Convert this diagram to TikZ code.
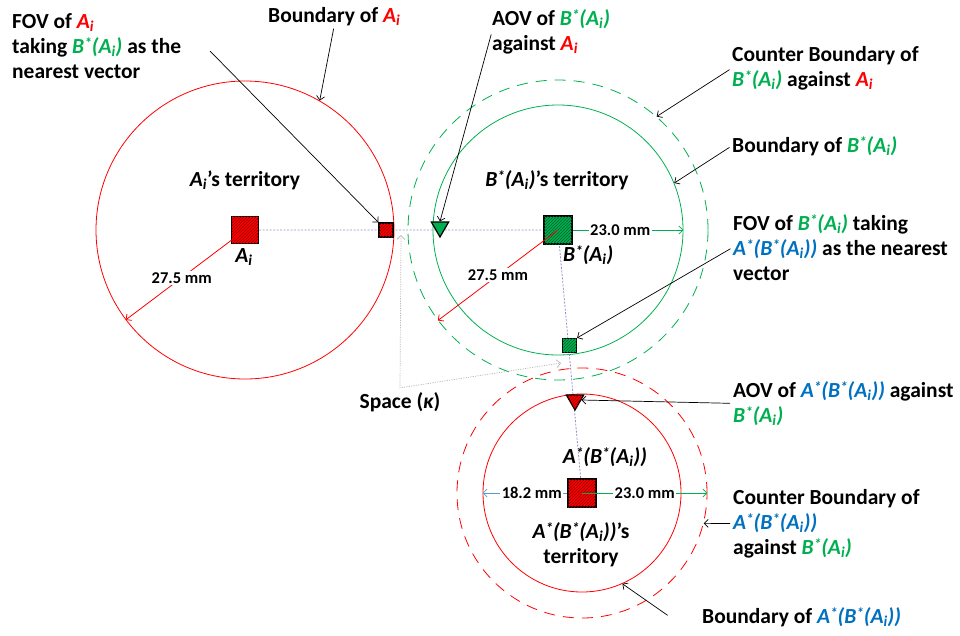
\documentclass[tikz,border=0pt]{standalone}
\usepackage{fontspec}
\setmainfont{Carlito}
\usetikzlibrary{positioning,arrows.meta,shapes.geometric,patterns}
\definecolor{TerrRed}{HTML}{FF0000}
\definecolor{TerrGreen}{HTML}{00B050}
\definecolor{TerrBlue}{HTML}{0070C0}
\definecolor{TerrSky}{HTML}{5B9BD5}
\definecolor{TerrLav}{HTML}{9A90C8}
\newcommand{\nstar}{\raisebox{0.2em}{\scalebox{0.7}{*}}}
\newcommand{\Ai}{\textit{A\textsubscript{i}}}
\newcommand{\BAi}{\textit{B\nstar(A\textsubscript{i})}}
\newcommand{\ABAi}{\textit{A\nstar(B\nstar(A\textsubscript{i}))}}

\begin{document}
\begin{tikzpicture}[x=1pt,y=-1pt,
    font=\fontsize{21.5}{25}\selectfont\bfseries,
    every node/.style={inner sep=0pt},
    bound/.style={circle,draw,line width=0.8pt,minimum size=#1},
    counter/.style={bound=#1,dash pattern=on 11pt off 8pt},
    agent/.style={draw,line width=1.2pt,minimum size=#1},
    redhatch/.style={fill=TerrRed,postaction={pattern=north east lines,pattern color=TerrRed!55!black}},
    greenhatch/.style={fill=TerrGreen,postaction={pattern=north east lines,pattern color=TerrGreen!55!black}},
    tri/.style={regular polygon,regular polygon sides=3,shape border rotate=180,draw,line width=1.2pt,minimum size=20pt},
    link/.style={TerrLav,line width=0.8pt,dash pattern=on 2pt off 1.5pt},
    meas/.style={-{Straight Barb[length=4pt,width=8pt]},line width=0.8pt},
    mmlbl/.style={fill=white,inner sep=1.5pt,font=\fontsize{16.5}{18}\selectfont\bfseries},
    lbl/.style={align=left,anchor=north west},
    ptr/.style={-{Straight Barb[length=4pt,width=8pt]},line width=0.7pt,shorten <=3pt},
    gap/.style={gray!55,line width=0.7pt,dash pattern=on 1.2pt off 1.2pt,
      {Straight Barb[length=4pt,width=8pt]}-{Straight Barb[length=4pt,width=8pt]}}]
    \useasboundingbox (0,0) rectangle (960,635);

    % Centres
    \coordinate (cA) at (245,230);
    \coordinate (cB) at (558,230);
    \coordinate (cAB) at (582,493);

    % Boundaries
    \node[bound=298pt,draw=TerrRed] (bndA) at (cA) {};
    \node[bound=250pt,draw=TerrGreen] (bndB) at (cB) {};
    \node[counter=300pt,draw=TerrGreen] (cbB) at (cB) {};
    \node[bound=198pt,draw=TerrRed] (bndAB) at (cAB) {};
    \node[counter=250pt,draw=TerrRed] (cbAB) at (cAB) {};

    % Nearest vector link
    \draw[link] (cA) -- (cB) -- (cAB);

    % Vectors
    \node[agent=27pt,redhatch] (sqA) at (cA) {};
    \node[agent=28pt,greenhatch] (sqB) at (cB) {};
    \node[agent=28pt,redhatch] (sqAB) at (cAB) {};
    \node[agent=14pt,redhatch] (fovA) at (386,230) {};
    \node[agent=14pt,greenhatch] (fovB) at (569.5,345.5) {};
    \node[tri,fill=TerrGreen] (trB) at (440,227) {};
    \node[tri,redhatch] (trA) at (575,400) {};

    % Distances
    \draw[meas,draw=TerrRed] (sqA.center) -- (bndA.217) node[mmlbl,pos=0.53] {27.5 mm};
    \draw[meas,draw=TerrRed] (sqB.center) -- (cbB.217) node[mmlbl,pos=0.5] {27.5 mm};
    \draw[meas,draw=TerrGreen] (sqB.east) -- (bndB.east) node[mmlbl,pos=0.43] {23.0 mm};
    \draw[meas,draw=TerrSky] (sqAB.west) -- (bndAB.west) node[mmlbl,pos=0.42] {18.2 mm};
    \draw[meas,draw=TerrGreen] (sqAB.center) -- (cbAB.east) node[mmlbl,pos=0.5] {23.0 mm};

    % Names and territories
    \node[anchor=base] (terA) at (245,186) {\Ai's territory};
    \node[anchor=base] (terB) at (557,186) {\BAi's territory};
    \node[anchor=base] (nmA) at (244,262) {\Ai};
    \node[anchor=base west] (nmB) at (563,261) {\BAi};
    \node[anchor=base] (nmAB) at (605,463) {\ABAi};
    \node[align=center,anchor=north] (terAB) at (581,522) {\ABAi's\\territory};

    % Labels
    \node[lbl] (fovAlbl) at (12,13) {FOV of \textcolor{TerrRed}{\Ai}\\taking \textcolor{TerrGreen}{\BAi} as the\\nearest vector};
    \node[anchor=base west] (bndAlbl) at (268,22) {Boundary of \textcolor{TerrRed}{\Ai}};
    \node[lbl] (aovBlbl) at (492,9) {AOV of \textcolor{TerrGreen}{\BAi}\\against \textcolor{TerrRed}{\Ai}};
    \node[lbl] (cbBlbl) at (732,46) {Counter Boundary of\\\textcolor{TerrGreen}{\BAi} against \textcolor{TerrRed}{\Ai}};
    \node[anchor=base west] (bndBlbl) at (732,152) {Boundary of \textcolor{TerrGreen}{\BAi}};
    \node[lbl] (fovBlbl) at (733,214) {FOV of \textcolor{TerrGreen}{\BAi} taking\\\textcolor{TerrBlue}{\ABAi} as the nearest\\vector};
    \node[lbl] (aovAlbl) at (733,381) {AOV of \textcolor{TerrBlue}{\ABAi} against\\\textcolor{TerrGreen}{\BAi}};
    \node[lbl] (cbABlbl) at (733,489) {Counter Boundary of\\\textcolor{TerrBlue}{\ABAi}\\against \textcolor{TerrGreen}{\BAi}};
    \node[anchor=base west] (bndABlbl) at (702,623) {Boundary of \textcolor{TerrBlue}{\ABAi}};
    \node[anchor=base,inner sep=4pt] (spc) at (400,408) {Space ({\itshape κ})};

    % Pointers
    \coordinate (fovAtail) at (208,49);
    \coordinate (bndABtail) at (670,617);
    \draw[ptr] (fovAtail) -- (fovA.north west);
    \draw[ptr] (bndAlbl.south) -- (bndA.60);
    \draw[ptr] (aovBlbl.west) -- (trB.north);
    \draw[ptr] (cbBlbl.west) -- (cbB.49);
    \draw[ptr] (bndBlbl.west) -- (bndB.22);
    \draw[ptr] (fovBlbl.west) -- (fovB.north east);
    \draw[ptr] (aovAlbl.west) -- (trA.east);
    \draw[ptr] (cbABlbl.west) -- (cbAB.-14);
    \draw[ptr] (bndABtail) -- (bndAB.-66);

    % Space
    \coordinate (kapTop) at (401,235);
    \coordinate (kapEnd) at (561,363);
    \draw[gap] (kapTop) -- (spc.north) -- (kapEnd);
\end{tikzpicture}
\end{document}
